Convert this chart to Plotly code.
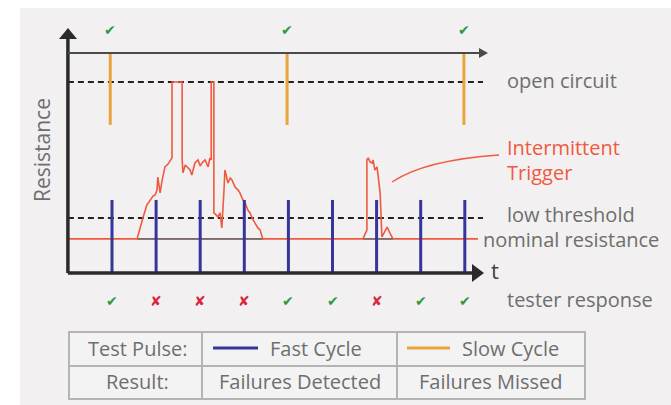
import plotly.graph_objects as go

# ---------------- data (time in pulse periods, resistance in arbitrary units) ----------
fast_t = [1, 2, 3, 4, 5, 6, 7, 8, 9]
fast_result = ["pass", "fail", "fail", "fail", "pass", "pass", "fail", "pass", "pass"]
fast_top = 3.32
slow_t = [0.96, 4.97, 8.98]
slow_result = ["pass", "pass", "pass"]
slow_bottom = 6.73
top_R = 10.0
open_R = 8.68
low_R = 2.5
nominal_R = 1.55

burst1_t = [1.57, 1.64, 1.70, 1.79, 1.86, 1.93, 1.98, 2.02, 2.04, 2.09, 2.13, 2.20, 2.27, 2.32, 2.36,
            2.36, 2.59, 2.59, 2.61, 2.66, 2.70, 2.77, 2.81, 2.88, 2.95, 3.00, 3.04, 3.11, 3.18, 3.22,
            3.25, 3.25, 3.31, 3.31, 3.36, 3.40, 3.45, 3.49, 3.54, 3.56, 3.63, 3.68, 3.72, 3.79, 3.86,
            3.90, 3.97, 4.02, 4.08, 4.13, 4.20, 4.24, 4.31, 4.36, 4.42]
burst1_R = [1.55, 2.09, 2.50, 3.09, 3.32, 3.50, 3.55, 3.77, 4.36, 3.64, 4.14, 4.82, 4.95, 5.14, 5.23,
            8.68, 8.68, 5.14, 4.55, 4.91, 4.82, 4.68, 4.45, 5.00, 5.14, 4.86, 5.00, 5.14, 4.82, 5.23,
            5.14, 8.68, 8.68, 2.73, 2.64, 2.55, 2.73, 2.05, 3.77, 4.68, 4.09, 4.32, 4.23, 3.91, 3.77,
            3.64, 3.32, 3.18, 2.86, 2.73, 2.41, 2.27, 2.05, 1.95, 1.55]
burst2_t = [6.69, 6.71, 6.78, 6.78, 6.81, 6.85, 6.90, 6.92, 6.96, 7.01, 7.03, 7.08, 7.12, 7.19, 7.24, 7.30, 7.37]
burst2_R = [1.55, 1.64, 1.95, 5.14, 5.23, 5.05, 5.00, 5.14, 4.68, 4.82, 4.55, 3.64, 1.64, 1.95, 2.09, 1.82, 1.55]

table_rows = [["Test Pulse:", "Fast Cycle", "Slow Cycle"],
              ["Result:", "Failures Detected", "Failures Missed"]]

# ---------------- layout helpers (pixel -> data mapping of the frame) ----------------
W, H = 671, 405
X0PX, TPX = 67.9, 44.1
Y0PX, RPX = 273.0, 22.0
def tx(px): return (px - X0PX) / TPX
def ry(py): return (Y0PX - py) / RPX

BLUE = "#35359a"
ORANGE = "#e9a53c"
RED = "#ef5a3f"
GREEN = "#2b9a3f"
XRED = "#d8283f"
GREY = "#6e6e6e"
DARK = "#2b2b2b"
FONT = "Open Sans"
FS = 20

fig = go.Figure()

def seg_trace(xs, y0s, y1s, color, width, dash=None):
    X, Y = [], []
    for x, a, b in zip(xs, y0s, y1s):
        X += [x, x, None]; Y += [a, b, None]
    fig.add_trace(go.Scatter(x=X, y=Y, mode="lines", hoverinfo="skip",
                             line=dict(color=color, width=width, dash=dash)))

def hline(x0, x1, y, color, width, dash=None):
    fig.add_trace(go.Scatter(x=[x0, x1], y=[y, y], mode="lines", hoverinfo="skip",
                             line=dict(color=color, width=width, dash=dash)))

# reference levels
hline(0, tx(483), open_R, "#222222", 2, "6px,4px")
hline(0, tx(483), low_R, "#222222", 2, "6px,4px")
hline(0, tx(478), nominal_R, RED, 1.6)
hline(burst1_t[0], burst1_t[-1], nominal_R, "#707070", 1.6)
hline(burst2_t[0], burst2_t[-1], nominal_R, "#707070", 1.6)

# resistance trace
fig.add_trace(go.Scatter(x=burst1_t, y=burst1_R, mode="lines", hoverinfo="skip",
                         line=dict(color=RED, width=1.6)))
fig.add_trace(go.Scatter(x=burst2_t, y=burst2_R, mode="lines", hoverinfo="skip",
                         line=dict(color=RED, width=1.6)))

# pulses
seg_trace(slow_t, [top_R] * 3, [slow_bottom] * 3, ORANGE, 3)
seg_trace(fast_t, [0] * 9, [fast_top] * 9, BLUE, 3)

# axes
hline(0, tx(476), 0, DARK, 3.5)
fig.add_trace(go.Scatter(x=[0, 0], y=[0, ry(36)], mode="lines", hoverinfo="skip",
                         line=dict(color=DARK, width=3.5)))
hline(0, tx(482), top_R, "#4a4a4a", 2.2)

shapes = []
def poly(pts, color):
    d = "M " + " L ".join(f"{tx(a)},{ry(b)}" for a, b in pts) + " Z"
    shapes.append(dict(type="path", xref="x", yref="y", path=d, fillcolor=color,
                       line=dict(width=0), layer="above"))

poly([(59, 39), (68, 28), (77, 39)], DARK)
poly([(472, 264), (484, 273), (472, 282)], DARK)
poly([(479, 48), (488, 53), (479, 58)], "#4a4a4a")

# background panel
shapes.insert(0, dict(type="rect", xref="paper", yref="paper", x0=20 / W, x1=1, y0=0, y1=1 - 8 / H,
                      fillcolor="#f2f0f1", line=dict(width=0), layer="below"))

# annotation arc
shapes.append(dict(type="path", xref="x", yref="y",
                   path=f"M {tx(392)},{ry(182)} Q {tx(425)},{ry(160)} {tx(499)},{ry(155)}",
                   line=dict(color=RED, width=1.5)))

# table
TX = [69, 202, 397, 585]
TY = [332, 366, 399]
shapes.append(dict(type="rect", xref="x", yref="y", x0=tx(TX[0]), x1=tx(TX[-1]), y0=ry(TY[0]), y1=ry(TY[-1]),
                   line=dict(color="#b4b4b4", width=2), fillcolor="#f4f3f4", layer="below"))
for xv in TX[1:-1]:
    shapes.append(dict(type="line", xref="x", yref="y", x0=tx(xv), x1=tx(xv), y0=ry(TY[0]), y1=ry(TY[-1]),
                       line=dict(color="#b4b4b4", width=2)))
shapes.append(dict(type="line", xref="x", yref="y", x0=tx(TX[0]), x1=tx(TX[-1]), y0=ry(TY[1]), y1=ry(TY[1]),
                   line=dict(color="#b4b4b4", width=2)))
shapes.append(dict(type="line", xref="x", yref="y", x0=tx(213), x1=tx(258), y0=ry(348), y1=ry(348),
                   line=dict(color=BLUE, width=3)))
shapes.append(dict(type="line", xref="x", yref="y", x0=tx(407), x1=tx(450), y0=ry(348), y1=ry(348),
                   line=dict(color=ORANGE, width=3)))

ann = []
def text(px, py, s, size=FS, color=GREY, anchor="left", angle=0):
    ann.append(dict(x=tx(px), y=ry(py), xref="x", yref="y", text=s, showarrow=False,
                    xanchor=anchor, yanchor="middle", textangle=angle,
                    font=dict(family=FONT, size=size, color=color)))

text(505, 80, "open circuit")
text(505, 147, "Intermittent", color=RED)
text(505, 172, "Trigger", color=RED)
text(505, 214, "low threshold")
text(481, 239, "nominal resistance")
text(505, 299, "tester response")
text(489, 270, "t", size=22, color="#444444")
text(42, 150, "Resistance", size=21, anchor="center", angle=-90)

# check marks
def mark(t, r, res):
    ann.append(dict(x=t, y=r, xref="x", yref="y", showarrow=False,
                    text="✔" if res == "pass" else "✘",
                    font=dict(family="DejaVu Sans", size=14, color=GREEN if res == "pass" else XRED)))
for t, r in zip(slow_t, slow_result):
    mark(t, ry(30), r)
for t, r in zip(fast_t, fast_result):
    mark(t, ry(301), r)

# table text
text(137, 348, table_rows[0][0], anchor="center")
text(268, 348, table_rows[0][1], anchor="left")
text(460, 348, table_rows[0][2], anchor="left")
text(137, 381, table_rows[1][0], anchor="center")
text(300, 381, table_rows[1][1], anchor="center")
text(491, 381, table_rows[1][2], anchor="center")

fig.update_layout(
    width=W, height=H, margin=dict(l=0, r=0, t=0, b=0),
    paper_bgcolor="white", plot_bgcolor="rgba(0,0,0,0)",
    showlegend=False, shapes=shapes, annotations=ann,
    xaxis=dict(range=[tx(0), tx(W)], visible=False, fixedrange=True),
    yaxis=dict(range=[ry(H), ry(0)], visible=False, fixedrange=True),
)
fig.write_html("out.html", config={"displayModeBar": False},
               post_script="document.body.style.margin='0';document.body.style.overflow='hidden';")
